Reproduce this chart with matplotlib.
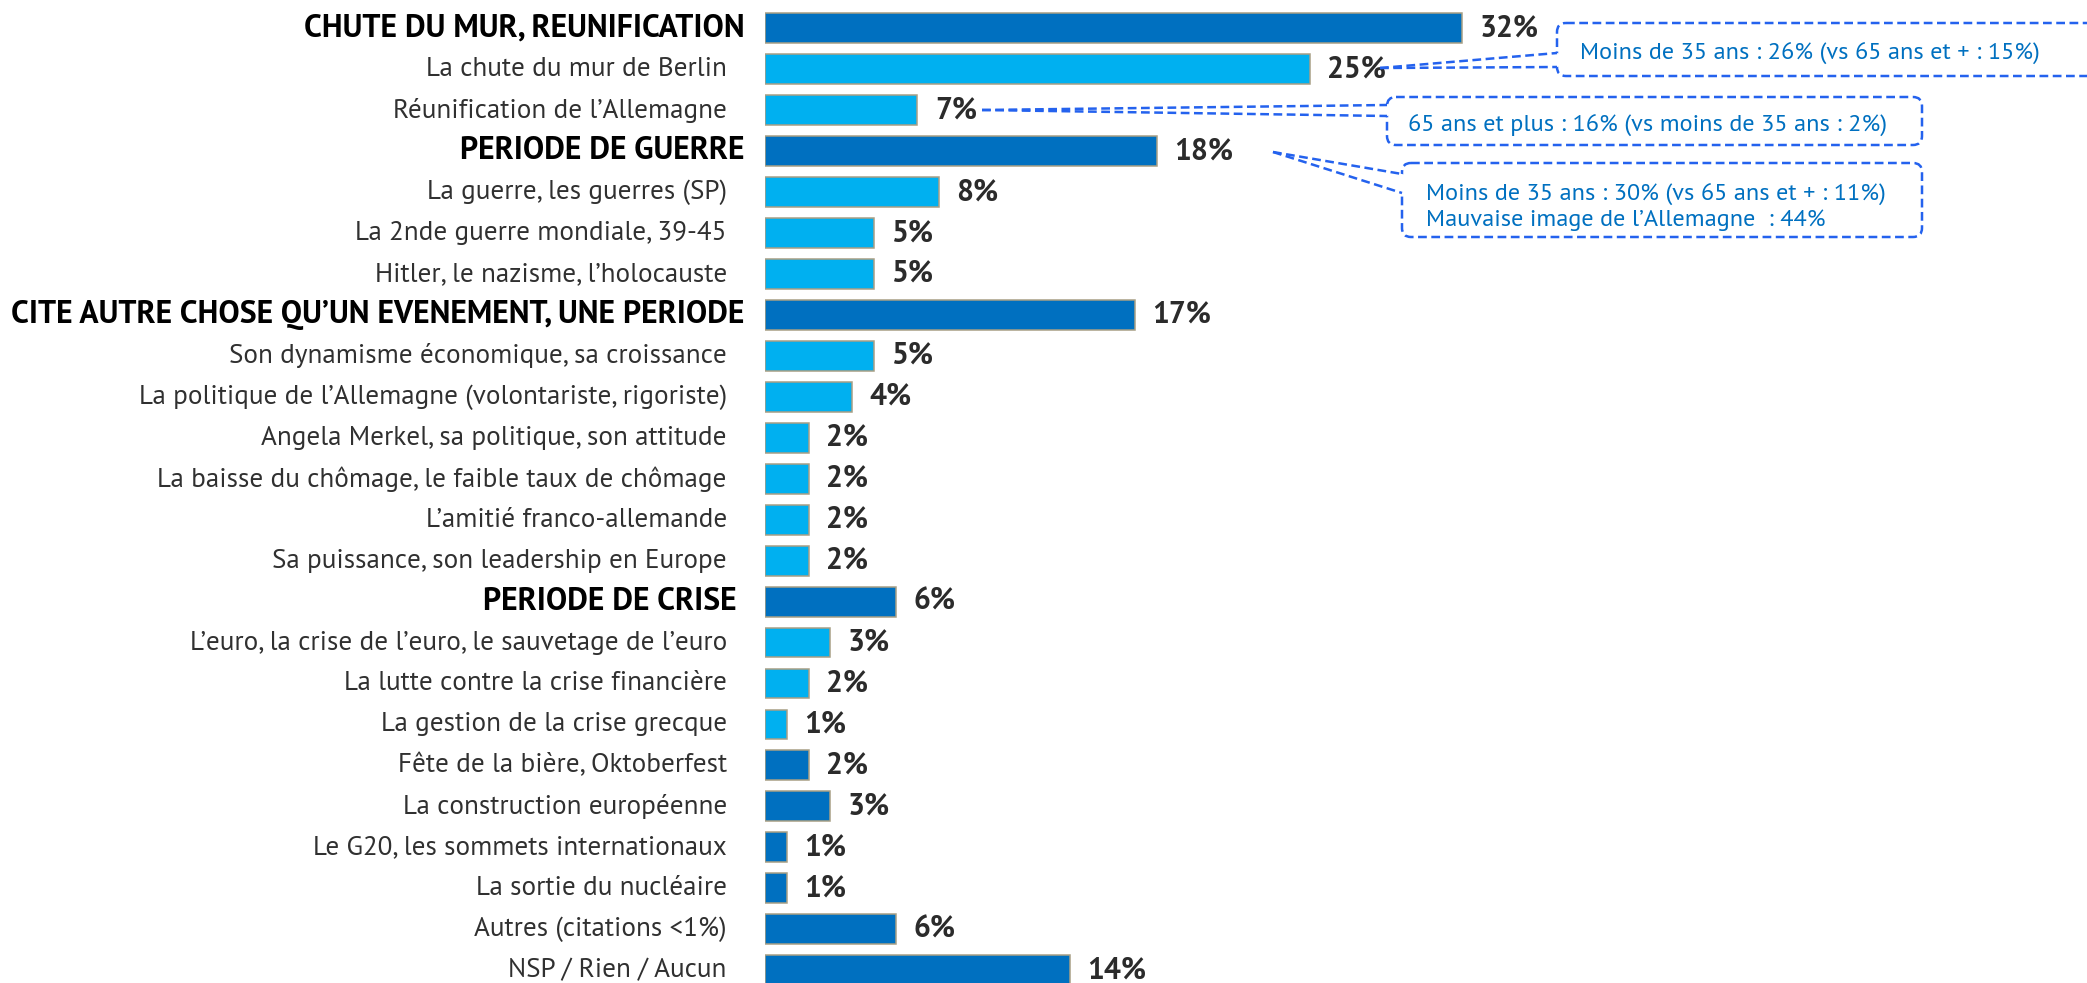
import matplotlib
matplotlib.use("Agg")
import matplotlib.pyplot as plt
from matplotlib.patches import FancyBboxPatch, Polygon
from matplotlib.lines import Line2D
from matplotlib import transforms

# ---------------- data ----------------
labels = [
    "CHUTE DU MUR, REUNIFICATION",
    "La chute du mur de Berlin",
    "Réunification de l’Allemagne",
    "PERIODE DE GUERRE",
    "La guerre, les guerres (SP)",
    "La 2nde guerre mondiale, 39-45",
    "Hitler, le nazisme, l’holocauste",
    "CITE AUTRE CHOSE QU’UN EVENEMENT, UNE PERIODE",
    "Son dynamisme économique, sa croissance",
    "La politique de l’Allemagne (volontariste, rigoriste)",
    "Angela Merkel, sa politique, son attitude",
    "La baisse du chômage, le faible taux de chômage",
    "L’amitié franco-allemande",
    "Sa puissance, son leadership en Europe",
    "PERIODE DE CRISE ",
    "L’euro, la crise de l’euro, le sauvetage de l’euro",
    "La lutte contre la crise financière",
    "La gestion de la crise grecque",
    "Fête de la bière, Oktoberfest",
    "La construction européenne",
    "Le G20, les sommets internationaux",
    "La sortie du nucléaire",
    "Autres (citations <1%)",
    "NSP / Rien / Aucun",
]
values = [32, 25, 7, 18, 8, 5, 5, 17, 5, 4, 2, 2, 2, 2, 6, 3, 2, 1, 2, 3, 1, 1, 6, 14]
header_rows = [0, 3, 7, 14]
sub_rows = [1, 2, 4, 5, 6, 8, 9, 10, 11, 12, 13, 15, 16, 17]

callout_texts = [
    "Moins de 35 ans : 26% (vs 65 ans et + : 15%)",
    "65 ans et plus : 16% (vs moins de 35 ans : 2%)",
    "Moins de 35 ans : 30% (vs 65 ans et + : 11%)\nMauvaise image de l’Allemagne  : 44%",
]

# ---------------- style ----------------
FONT = ["PT Sans", "PT Sans Narrow", "DejaVu Sans"]
plt.rcParams["font.family"] = FONT
DARK = "#0070C0"
LIGHT = "#00B0F0"
EDGE = "#A89F85"
VALC = "#2B2B2B"
LABC = "#303030"
CALL_LINE = "#2462EE"
CALL_TEXT = "#0070C0"

W, H = 2087, 983
fig = plt.figure(figsize=(W / 100, H / 100), dpi=100)

x0_px = 765
px_per_pct = 21.78
row0_px = 28.3
row_step = 40.95
ax = fig.add_axes([x0_px / W, 0, 1 - x0_px / W, 1])
ax.set_xlim(0, (W - x0_px) / px_per_pct)
ax.set_ylim((H - row0_px) / row_step, -row0_px / row_step)
ax.axis("off")

ypos = list(range(len(values)))
colors = [DARK] * len(values)
for r in sub_rows:
    colors[r] = LIGHT

ax.barh(ypos, values, height=0.73, color=colors, edgecolor=EDGE, linewidth=1.1, zorder=2)

for i, (lab, v) in enumerate(zip(labels, values)):
    if i in header_rows:
        ax.annotate(lab, xy=(0, i), xytext=(-14.5, 0), textcoords="offset points",
                    ha="right", va="center", fontsize=22.9, fontweight="bold", color="black",
                    annotation_clip=False)
    else:
        ax.annotate(lab, xy=(0, i), xytext=(-27.5, 0), textcoords="offset points",
                    ha="right", va="center", fontsize=19.5, color=LABC,
                    annotation_clip=False)
    ax.annotate(f"{v}%", xy=(v, i), xytext=(12.5, 0), textcoords="offset points",
                ha="left", va="center", fontsize=21.5, fontweight="bold", color=VALC,
                annotation_clip=False)

# ---------------- callouts (pixel layout, origin top-left) ----------------
pxT = transforms.Affine2D().scale(1 / W, -1 / H).translate(0, 1) + fig.transFigure

def callout(box, tip, att_top, att_bot, text, text_xy):
    bx0, by0, bx1, by1 = box
    r = 9
    fig.patches.append(FancyBboxPatch((bx0, by0), bx1 - bx0, by1 - by0,
                                      boxstyle=f"round,pad=0,rounding_size={r}",
                                      transform=pxT, fill=False, edgecolor=CALL_LINE,
                                      linewidth=1.8, linestyle=(0, (3.5, 1.8)), zorder=3))
    # open the box edge where the pointer joins
    fig.patches.append(Polygon([tip, (bx0, att_top), (bx0 + 4, att_top + 1),
                                (bx0 + 4, att_bot - 1), (bx0, att_bot)],
                               closed=True, transform=pxT, facecolor="white",
                               edgecolor="none", zorder=4))
    for a in (att_top, att_bot):
        fig.lines.append(Line2D([tip[0], bx0], [tip[1], a], transform=pxT,
                                color=CALL_LINE, linewidth=1.8,
                                linestyle=(0, (3.5, 1.8)), zorder=5))
    fig.text(text_xy[0], text_xy[1], text, transform=pxT, ha="left", va="center",
             fontsize=17.5, color=CALL_TEXT, linespacing=1.2, zorder=6)

callout((1557, 23, 2130, 76), (1380, 68), 53, 67, callout_texts[0], (1580, 54))
callout((1387, 97, 1922, 145), (982, 110), 105, 116, callout_texts[1], (1408, 126))
callout((1402, 163, 1922, 237), (1273, 152), 174, 193, callout_texts[2], (1426, 207))

fig.savefig("out.png", dpi=100)
